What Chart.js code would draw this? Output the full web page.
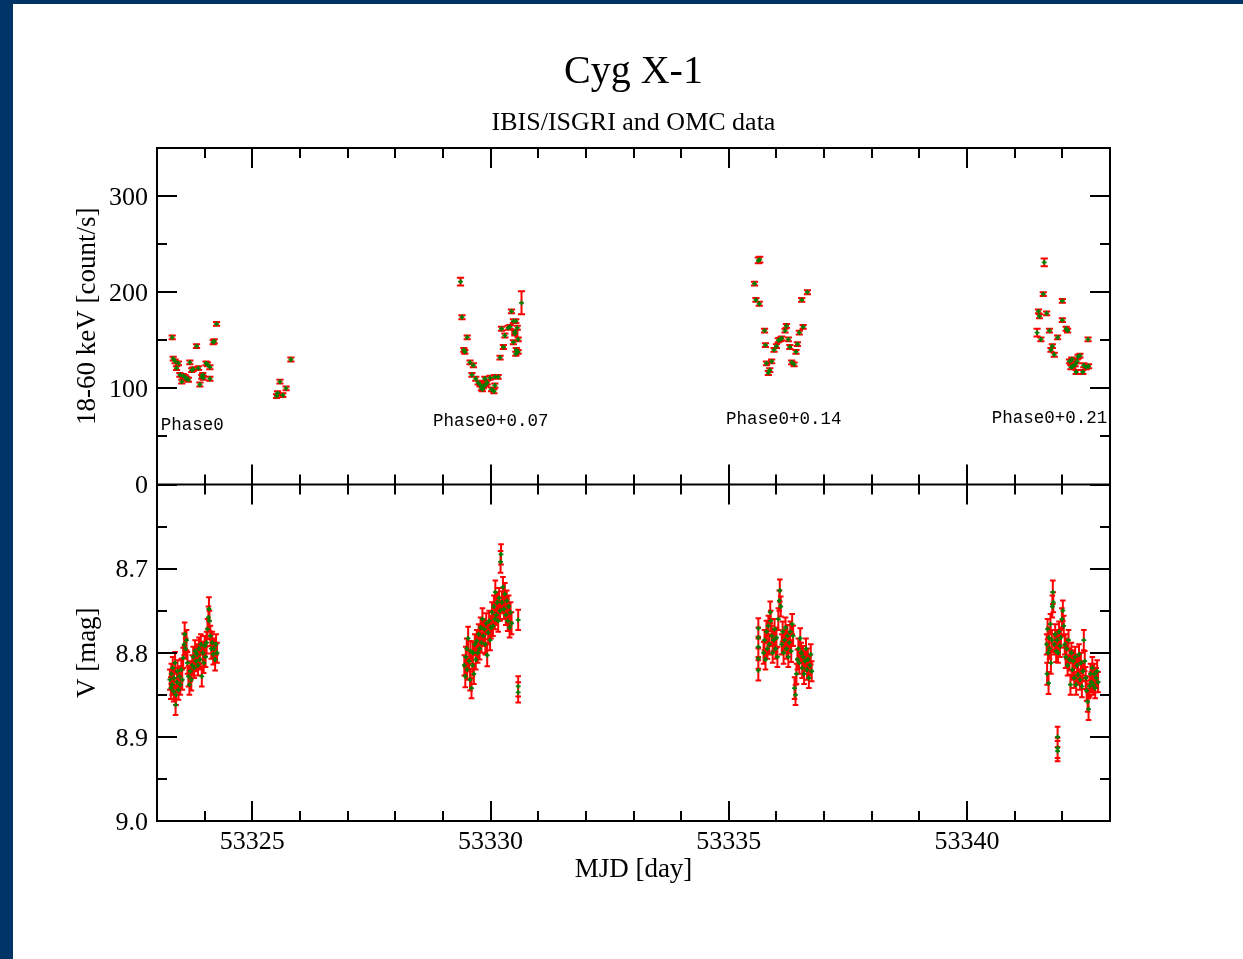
<!DOCTYPE html>
<html>
<head>
<meta charset="utf-8">
<title>Cyg X-1</title>
<script src="https://cdn.jsdelivr.net/npm/chart.js@4/dist/chart.umd.min.js"></script>
<style>
  body { margin: 0; background: #003366; }
  #panel { position: absolute; left: 13px; top: 4px; width: 1230px; height: 955px; background: #fff; }
</style>
</head>
<body>
<div id="panel"><canvas id="lightcurve" width="1230" height="955"></canvas></div>
<script>
// axis ranges and tick labels
var xMin = 53323, xMax = 53343;
var xTicks = [53325, 53330, 53335, 53340];
var rateTicks = [0, 100, 200, 300];
var rateMinor = [50, 150, 250];
var magTicks = [8.7, 8.8, 8.9, 9.0];
var magMinor = [8.65, 8.75, 8.85, 8.95];

// IBIS/ISGRI 18-60 keV rate: time, count/s, error
var rateT = [
  53323.32, 53323.34, 53323.38, 53323.41, 53323.45, 53323.48, 53323.52, 53323.55, 53323.59, 53323.62,
  53323.66, 53323.69, 53323.73, 53323.76, 53323.83, 53323.87, 53323.90, 53323.94, 53323.96, 53323.97,
  53324.03, 53324.06, 53324.11, 53324.11, 53324.18, 53324.20, 53324.25,
  53325.51, 53325.53, 53325.58, 53325.64, 53325.71, 53325.81,
  53329.37, 53329.40, 53329.44, 53329.46, 53329.51, 53329.57, 53329.61, 53329.64, 53329.69, 53329.74,
  53329.78, 53329.81, 53329.83, 53329.85, 53329.88, 53329.90, 53329.93, 53329.99, 53330.02, 53330.07,
  53330.09, 53330.09, 53330.16, 53330.20, 53330.23, 53330.27, 53330.30, 53330.37, 53330.41, 53330.44,
  53330.48, 53330.48, 53330.51, 53330.51, 53330.53, 53330.53, 53330.54, 53330.56, 53330.58, 53330.58, 53330.65,
  53335.54, 53335.57, 53335.62, 53335.65, 53335.64, 53335.75, 53335.77, 53335.79, 53335.83, 53335.86,
  53335.90, 53335.95, 53336.00, 53336.04, 53336.08, 53336.11, 53336.18, 53336.21, 53336.25, 53336.28,
  53336.32, 53336.37, 53336.41, 53336.44, 53336.48, 53336.53, 53336.56, 53336.65,
  53341.47, 53341.50, 53341.52, 53341.55, 53341.60, 53341.62, 53341.67, 53341.73, 53341.76, 53341.79,
  53341.83, 53341.90, 53342.00, 53342.00, 53342.08, 53342.11, 53342.15, 53342.18, 53342.20, 53342.22,
  53342.27, 53342.29, 53342.31, 53342.33, 53342.37, 53342.43, 53342.45, 53342.50, 53342.54, 53342.55
];
var rateV = [
  153, 131, 128, 121, 126, 114, 107, 113, 112, 110,
  109, 127, 119, 120, 144, 121, 104, 112, 114, 111,
  126, 125, 122, 110, 148, 149, 167,
  92, 95, 107, 93, 100, 130,
  211, 174, 140, 138, 153, 127, 114, 124, 110, 106,
  104, 100, 99, 102, 110, 104, 106, 111, 99, 97,
  112, 103, 112, 132, 162, 143, 155, 163, 164, 180,
  170, 148, 159, 157, 170, 136, 140, 163, 151, 138, 189,
  209, 192, 233, 234, 188, 160, 145, 126, 116, 119,
  128, 140, 144, 150, 151, 152, 160, 165, 151, 143,
  127, 125, 138, 146, 158, 192, 164, 200,
  158, 180, 175, 151, 198, 231, 178, 160, 140, 144,
  135, 153, 191, 171, 162, 160, 128, 122, 130, 123,
  125, 117, 128, 133, 134, 117, 124, 122, 151, 123
];
var rateE = [
  2, 2, 2, 2, 2, 2, 2, 2, 2, 2,
  2, 2, 2, 2, 2, 2, 2, 2, 2, 2,
  2, 2, 2, 2, 2, 2, 2,
  2, 2, 2, 2, 2, 2,
  4, 2, 2, 2, 2, 2, 2, 2, 2, 2,
  2, 2, 2, 2, 2, 2, 2, 2, 2, 2,
  2, 2, 2, 2, 2, 2, 2, 2, 2, 2,
  2, 2, 2, 2, 2, 2, 2, 2, 2, 2, 12,
  2, 2, 3, 3, 2, 2, 2, 2, 2, 2,
  2, 2, 2, 2, 2, 2, 2, 2, 2, 2,
  2, 2, 2, 2, 2, 2, 2, 2,
  4, 2, 2, 2, 2, 4, 2, 2, 2, 2,
  2, 2, 2, 2, 2, 2, 2, 2, 2, 2,
  2, 2, 2, 2, 2, 2, 2, 2, 2, 2
];

// OMC V magnitude: time, mag, error
var magT = [
  53323.27, 53323.29, 53323.30, 53323.32, 53323.33, 53323.35, 53323.36, 53323.38, 53323.39, 53323.40,
  53323.42, 53323.43, 53323.45, 53323.47, 53323.49, 53323.51, 53323.53, 53323.55, 53323.57, 53323.58,
  53323.60, 53323.62, 53323.64, 53323.66, 53323.68, 53323.70, 53323.72, 53323.74, 53323.76, 53323.78,
  53323.80, 53323.82, 53323.84, 53323.86, 53323.88, 53323.90, 53323.92, 53323.94, 53323.96, 53323.98,
  53324.00, 53324.02, 53324.04, 53324.06, 53324.08, 53324.09, 53324.10, 53324.12, 53324.14, 53324.16,
  53324.18, 53324.20, 53324.22, 53324.24, 53324.26,
  53329.45, 53329.47, 53329.48, 53329.50, 53329.51, 53329.53, 53329.55, 53329.57, 53329.58, 53329.60,
  53329.62, 53329.63, 53329.65, 53329.67, 53329.69, 53329.71, 53329.73, 53329.75, 53329.77, 53329.79,
  53329.81, 53329.83, 53329.85, 53329.87, 53329.89, 53329.91, 53329.93, 53329.95, 53329.97, 53329.99,
  53330.01, 53330.03, 53330.05, 53330.07, 53330.09, 53330.10, 53330.12, 53330.14, 53330.16, 53330.18,
  53330.20, 53330.21, 53330.22, 53330.24, 53330.26, 53330.28, 53330.30, 53330.32, 53330.34, 53330.36,
  53330.38, 53330.40, 53330.42, 53330.44, 53330.58, 53330.58, 53330.58,
  53335.62, 53335.62, 53335.62, 53335.62, 53335.62, 53335.73, 53335.75, 53335.77, 53335.79, 53335.81,
  53335.83, 53335.85, 53335.87, 53335.88, 53335.90, 53335.92, 53335.94, 53335.96, 53335.98, 53336.00,
  53336.02, 53336.04, 53336.06, 53336.07, 53336.09, 53336.11, 53336.13, 53336.15, 53336.17, 53336.19,
  53336.21, 53336.23, 53336.25, 53336.27, 53336.29, 53336.31, 53336.33, 53336.35, 53336.38, 53336.40,
  53336.42, 53336.44, 53336.46, 53336.48, 53336.50, 53336.52, 53336.54, 53336.56, 53336.58, 53336.60,
  53336.62, 53336.64, 53336.66, 53336.68, 53336.70, 53336.72, 53336.74,
  53341.67, 53341.68, 53341.69, 53341.70, 53341.71, 53341.72, 53341.73, 53341.75, 53341.76, 53341.78,
  53341.79, 53341.80, 53341.81, 53341.83, 53341.85, 53341.87, 53341.89, 53341.90, 53341.90, 53341.90,
  53341.91, 53341.93, 53341.95, 53341.97, 53341.99, 53342.01, 53342.03, 53342.05, 53342.07, 53342.09,
  53342.11, 53342.13, 53342.15, 53342.17, 53342.19, 53342.21, 53342.23, 53342.25, 53342.27, 53342.29,
  53342.31, 53342.33, 53342.35, 53342.37, 53342.39, 53342.41, 53342.43, 53342.45, 53342.47, 53342.49,
  53342.51, 53342.53, 53342.55, 53342.57, 53342.59, 53342.61, 53342.63, 53342.65, 53342.67, 53342.69,
  53342.71, 53342.73, 53342.75
];
var magV = [
  8.832, 8.842, 8.825, 8.838, 8.818, 8.846, 8.830, 8.812, 8.862, 8.850,
  8.835, 8.822, 8.844, 8.828, 8.838, 8.820, 8.832, 8.806, 8.790, 8.778,
  8.795, 8.785, 8.812, 8.828, 8.838, 8.822, 8.832, 8.815, 8.805, 8.818,
  8.798, 8.810, 8.802, 8.815, 8.795, 8.808, 8.790, 8.828, 8.800, 8.812,
  8.792, 8.805, 8.788, 8.772, 8.758, 8.748, 8.762, 8.780, 8.795, 8.788,
  8.802, 8.795, 8.808, 8.790, 8.800,
  8.815, 8.828, 8.805, 8.795, 8.820, 8.783, 8.810, 8.832, 8.798, 8.842,
  8.815, 8.800, 8.825, 8.790, 8.808, 8.786, 8.800, 8.778, 8.795, 8.770,
  8.788, 8.760, 8.780, 8.772, 8.790, 8.765, 8.803, 8.776, 8.762, 8.785,
  8.770, 8.752, 8.768, 8.745, 8.760, 8.728, 8.755, 8.740, 8.762, 8.735,
  8.750, 8.692, 8.683, 8.740, 8.722, 8.748, 8.730, 8.755, 8.738, 8.762,
  8.745, 8.770, 8.752, 8.765, 8.761, 8.840, 8.847,
  8.771, 8.782, 8.793, 8.807, 8.821, 8.800, 8.785, 8.808, 8.775, 8.795,
  8.768, 8.790, 8.752, 8.762, 8.780, 8.800, 8.785, 8.772, 8.795, 8.782,
  8.805, 8.760, 8.738, 8.726, 8.745, 8.790, 8.775, 8.800, 8.785, 8.770,
  8.795, 8.780, 8.805, 8.788, 8.775, 8.798, 8.766, 8.780, 8.842, 8.850,
  8.825, 8.808, 8.795, 8.812, 8.783, 8.800, 8.818, 8.805, 8.825, 8.810,
  8.795, 8.820, 8.808, 8.830, 8.815, 8.802, 8.822,
  8.790, 8.825, 8.772, 8.800, 8.836, 8.782, 8.795, 8.766, 8.812, 8.785,
  8.745, 8.728, 8.740, 8.790, 8.778, 8.798, 8.785, 8.900, 8.913, 8.917,
  8.800, 8.775, 8.792, 8.782, 8.760, 8.750, 8.768, 8.790, 8.805, 8.795,
  8.815, 8.785, 8.808, 8.838, 8.800, 8.820, 8.810, 8.830, 8.805, 8.838,
  8.815, 8.826, 8.802, 8.832, 8.812, 8.840, 8.822, 8.785, 8.810, 8.830,
  8.845, 8.858, 8.867, 8.840, 8.825, 8.835, 8.818, 8.838, 8.825, 8.842,
  8.830, 8.822, 8.835
];
var magE = [
  0.012, 0.013, 0.012, 0.012, 0.013, 0.012, 0.012, 0.013, 0.012, 0.012,
  0.012, 0.013, 0.012, 0.012, 0.012, 0.013, 0.012, 0.012, 0.013, 0.014,
  0.012, 0.012, 0.013, 0.012, 0.012, 0.012, 0.013, 0.012, 0.012, 0.012,
  0.013, 0.012, 0.012, 0.012, 0.013, 0.012, 0.012, 0.012, 0.013, 0.012,
  0.012, 0.012, 0.013, 0.012, 0.013, 0.014, 0.012, 0.012, 0.012, 0.013,
  0.012, 0.012, 0.013, 0.012, 0.012,
  0.012, 0.013, 0.012, 0.012, 0.012, 0.014, 0.012, 0.013, 0.012, 0.012,
  0.012, 0.013, 0.012, 0.012, 0.012, 0.013, 0.012, 0.012, 0.013, 0.012,
  0.012, 0.013, 0.012, 0.012, 0.012, 0.012, 0.013, 0.012, 0.012, 0.012,
  0.013, 0.012, 0.012, 0.013, 0.012, 0.014, 0.012, 0.012, 0.013, 0.012,
  0.012, 0.013, 0.012, 0.013, 0.012, 0.012, 0.013, 0.012, 0.012, 0.012,
  0.013, 0.012, 0.012, 0.013, 0.012, 0.012, 0.012,
  0.012, 0.012, 0.012, 0.012, 0.012, 0.013, 0.012, 0.012, 0.013, 0.012,
  0.012, 0.012, 0.013, 0.012, 0.012, 0.012, 0.013, 0.012, 0.012, 0.012,
  0.012, 0.013, 0.012, 0.013, 0.012, 0.012, 0.012, 0.013, 0.012, 0.012,
  0.012, 0.013, 0.012, 0.012, 0.012, 0.013, 0.012, 0.012, 0.013, 0.012,
  0.012, 0.012, 0.012, 0.013, 0.012, 0.012, 0.012, 0.013, 0.012, 0.012,
  0.012, 0.012, 0.013, 0.012, 0.012, 0.012, 0.012,
  0.012, 0.013, 0.012, 0.012, 0.013, 0.012, 0.012, 0.012, 0.013, 0.012,
  0.013, 0.014, 0.012, 0.012, 0.012, 0.013, 0.012, 0.012, 0.012, 0.012,
  0.012, 0.012, 0.013, 0.012, 0.013, 0.012, 0.012, 0.012, 0.013, 0.012,
  0.012, 0.012, 0.013, 0.012, 0.012, 0.012, 0.013, 0.012, 0.012, 0.012,
  0.013, 0.012, 0.012, 0.012, 0.012, 0.013, 0.012, 0.012, 0.012, 0.013,
  0.012, 0.012, 0.013, 0.012, 0.012, 0.012, 0.013, 0.012, 0.012, 0.012,
  0.012, 0.013, 0.012
];

// orbital phase labels in the upper panel
var phaseText = ['Phase0', 'Phase0+0.07', 'Phase0+0.14', 'Phase0+0.21'];
var phaseX = [53323.08, 53328.79, 53334.94, 53340.52];
var phaseY = [61, 66, 68, 69];

var serif = "'Liberation Serif', 'Times New Roman', serif";

function points(t, v) {
  return t.map(function (x, i) { return { x: x, y: v[i] }; });
}

// red error bars under the green points
var errorBars = {
  id: 'errorBars',
  beforeDatasetsDraw: function (chart) {
    var ctx = chart.ctx;
    var sx = chart.scales.x;
    chart.data.datasets.forEach(function (ds) {
      var sy = chart.scales[ds.yAxisID];
      ctx.save();
      ctx.strokeStyle = '#ff0000';
      ctx.lineWidth = 2;
      ctx.beginPath();
      ds.data.forEach(function (p, i) {
        var px = sx.getPixelForValue(p.x);
        var a = sy.getPixelForValue(p.y + ds.errors[i]);
        var b = sy.getPixelForValue(p.y - ds.errors[i]);
        var w = ds.capWidth;
        ctx.moveTo(px, a); ctx.lineTo(px, b);
        ctx.moveTo(px - w, a); ctx.lineTo(px + w, a);
        ctx.moveTo(px - w, b); ctx.lineTo(px + w, b);
      });
      ctx.stroke();
      ctx.restore();
    });
  }
};

// box round each panel with inward ticks on all sides, plus phase labels
var frame = {
  id: 'frame',
  afterDatasetsDraw: function (chart) {
    var ctx = chart.ctx, area = chart.chartArea, s = chart.scales;
    ctx.save();
    ctx.strokeStyle = '#000';
    ctx.lineWidth = 2;
    ctx.beginPath();
    [['yRate', rateTicks, rateMinor], ['yMag', magTicks, magMinor]].forEach(function (panel) {
      var sy = s[panel[0]];
      ctx.rect(area.left, sy.top, area.right - area.left, sy.bottom - sy.top);
      for (var d = xMin + 1; d < xMax; d++) {
        var len = xTicks.indexOf(d) >= 0 ? 20 : 10;
        var px = Math.round(s.x.getPixelForValue(d));
        ctx.moveTo(px, sy.top); ctx.lineTo(px, sy.top + len);
        ctx.moveTo(px, sy.bottom); ctx.lineTo(px, sy.bottom - len);
      }
      [[panel[1], 20], [panel[2], 10]].forEach(function (set) {
        set[0].forEach(function (v) {
          var py = Math.round(sy.getPixelForValue(v));
          ctx.moveTo(area.left, py); ctx.lineTo(area.left + set[1], py);
          ctx.moveTo(area.right, py); ctx.lineTo(area.right - set[1], py);
        });
      });
    });
    ctx.stroke();

    ctx.fillStyle = '#000';
    ctx.font = "17.5px 'Liberation Mono', 'Courier New', monospace";
    ctx.textAlign = 'left';
    ctx.textBaseline = 'middle';
    phaseText.forEach(function (txt, i) {
      ctx.fillText(txt, s.x.getPixelForValue(phaseX[i]), s.yRate.getPixelForValue(phaseY[i]));
    });
    ctx.restore();
  }
};

var ctx = document.getElementById('lightcurve').getContext('2d');
var chart = new Chart(ctx, {
  type: 'scatter',
  data: {
    datasets: [{
      label: 'V',
      yAxisID: 'yMag',
      data: points(magT, magV),
      errors: magE,
      capWidth: 2.8,
      pointStyle: 'cross',
      pointRadius: 2.4,
      borderWidth: 1.8,
      borderColor: '#008000',
      backgroundColor: '#008000'
    }, {
      label: '18-60 keV',
      yAxisID: 'yRate',
      data: points(rateT, rateV),
      errors: rateE,
      capWidth: 3.6,
      pointStyle: 'cross',
      pointRadius: 2.4,
      borderWidth: 1.8,
      borderColor: '#008000',
      backgroundColor: '#008000'
    }]
  },
  options: {
    responsive: false,
    animation: false,
    devicePixelRatio: 1,
    events: [],
    layout: { padding: { left: 52, right: 133, top: 0, bottom: 73 } },
    plugins: {
      legend: { display: false },
      tooltip: { enabled: false },
      title: {
        display: true,
        text: 'Cyg X-1',
        fullSize: false,
        color: '#000',
        font: { family: serif, size: 40, weight: 'normal', lineHeight: 1.2 },
        padding: { top: 44, bottom: 0 }
      },
      subtitle: {
        display: true,
        text: 'IBIS/ISGRI and OMC data',
        fullSize: false,
        color: '#000',
        font: { family: serif, size: 26, weight: 'normal', lineHeight: 1.2 },
        padding: { top: 12, bottom: 8.8 }
      }
    },
    scales: {
      x: {
        type: 'linear',
        position: 'bottom',
        min: xMin,
        max: xMax,
        grid: { display: false, drawTicks: false },
        border: { display: false },
        afterBuildTicks: function (sc) { sc.ticks = xTicks.map(function (v) { return { value: v }; }); },
        afterFit: function (sc) { sc.height = 65; },
        ticks: {
          color: '#000',
          padding: 6,
          maxRotation: 0,
          font: { family: serif, size: 26 },
          callback: function (v) { return String(v); }
        },
        title: {
          display: true,
          text: 'MJD [day]',
          color: '#000',
          padding: 0,
          font: { family: serif, size: 27 }
        }
      },
      yMag: {
        type: 'linear',
        position: 'left',
        stack: 'panels',
        stackWeight: 1,
        min: 8.6,
        max: 9.0,
        reverse: true,
        grid: { display: false, drawTicks: false },
        border: { display: false },
        afterBuildTicks: function (sc) { sc.ticks = magTicks.map(function (v) { return { value: v }; }); },
        afterFit: function (sc) { sc.width = 92; },
        ticks: {
          color: '#000',
          padding: 9,
          labelOffset: 2,
          font: { family: serif, size: 26 },
          callback: function (v) { return Number(v).toFixed(1); }
        },
        title: {
          display: true,
          text: 'V [mag]',
          color: '#000',
          padding: { top: 7, bottom: 0 },
          font: { family: serif, size: 27 }
        }
      },
      yRate: {
        type: 'linear',
        position: 'left',
        stack: 'panels',
        stackWeight: 1,
        min: 0,
        max: 350,
        grid: { display: false, drawTicks: false },
        border: { display: false },
        afterBuildTicks: function (sc) { sc.ticks = rateTicks.map(function (v) { return { value: v }; }); },
        afterFit: function (sc) { sc.width = 92; },
        ticks: {
          color: '#000',
          padding: 9,
          labelOffset: 2,
          font: { family: serif, size: 26 },
          callback: function (v) { return String(v); }
        },
        title: {
          display: true,
          text: '18-60 keV [count/s]',
          color: '#000',
          padding: { top: 7, bottom: 0 },
          font: { family: serif, size: 27 }
        }
      }
    }
  },
  plugins: [errorBars, frame]
});
</script>
</body>
</html>
